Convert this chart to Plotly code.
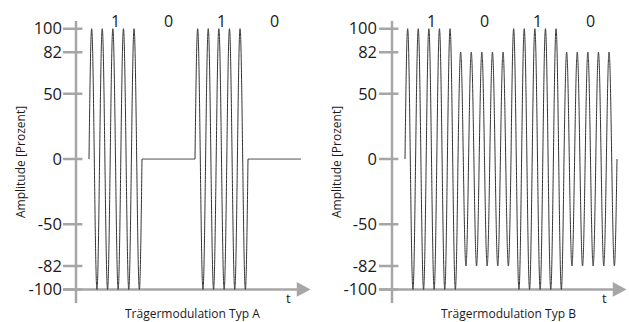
import numpy as np
import plotly.graph_objects as go

# ---- data ----
bits = [1, 0, 1, 0]
bit_labels = ["1", "0", "1", "0"]
levels_typ_a = [100, 0, 100, 0]      # amplitude (%) per bit, Typ A
levels_typ_b = [100, 82, 100, 82]    # amplitude (%) per bit, Typ B
cycles_per_bit = 5
y_ticks = [100, 82, 50, 0, -50, -82, -100]
titles = ["Trägermodulation Typ A", "Trägermodulation Typ B"]
y_title = "Amplitude [Prozent]"

# ---- layout constants (pixels) ----
W, H = 629, 322
PX_PER_BIT = 53.0
panels = [
    dict(left=63, right=316, t0=89, levels=levels_typ_a, title=titles[0], ylab_x=20),
    dict(left=378, right=629, t0=405, levels=levels_typ_b, title=titles[1], ylab_x=336),
]
TOP, BOTTOM = 17, 303
Y0_PX, PX_PER_UNIT = 157.0, 1.32
y_range = [(Y0_PX - BOTTOM) / PX_PER_UNIT, (Y0_PX - TOP) / PX_PER_UNIT]

AX_COLOR = "#a6a6a6"
LINE_COLOR = "#333333"
TXT = "#1a1a1a"
FONT = "Open Sans"

fig = go.Figure()
shapes, annotations = [], []

samples_per_bit = 1000
for i, p in enumerate(panels):
    xa = "x" if i == 0 else "x2"
    ya = "y" if i == 0 else "y2"
    t = np.linspace(0, len(bits), len(bits) * samples_per_bit + 1)
    idx = np.minimum(np.floor(t).astype(int), len(bits) - 1)
    amp = np.array(p["levels"])[idx]
    y = amp * np.sin(2 * np.pi * cycles_per_bit * t)
    fig.add_trace(go.Scatter(x=t, y=y, mode="lines", xaxis=xa, yaxis=ya,
                             line=dict(color=LINE_COLOR, width=1, simplify=False),
                             hoverinfo="skip", showlegend=False))

    ax_x = -13 / PX_PER_BIT
    tick_l, tick_r = -0.49, -0.125
    tip, base = 4.18, 3.92
    half = 7.5 / PX_PER_UNIT
    # y axis line
    shapes.append(dict(type="line", xref=xa, yref=ya, x0=ax_x, x1=ax_x,
                       y0=y_range[0], y1=y_range[1],
                       line=dict(color=AX_COLOR, width=2.5), layer="below"))
    # tick marks
    for v in y_ticks:
        shapes.append(dict(type="line", xref=xa, yref=ya, x0=tick_l, x1=tick_r,
                           y0=v, y1=v, line=dict(color=AX_COLOR, width=2.5), layer="below"))
    # x axis line + arrow
    shapes.append(dict(type="line", xref=xa, yref=ya, x0=tick_l, x1=base + 0.02,
                       y0=-100, y1=-100, line=dict(color=AX_COLOR, width=2.5), layer="below"))
    shapes.append(dict(type="path", xref=xa, yref=ya,
                       path=f"M {base},{-100 + half} L {tip},-100 L {base},{-100 - half} Z",
                       fillcolor=AX_COLOR, line=dict(color=AX_COLOR, width=0), layer="below"))

    # bit labels
    for b, lab in enumerate(bit_labels):
        annotations.append(dict(xref=xa, yref=ya, x=b + 0.5, y=106, text=lab,
                                showarrow=False, font=dict(family=FONT, size=16, color=TXT)))
    # t label
    annotations.append(dict(xref=xa, yref=ya, x=3.76, y=-106.5, text="t", showarrow=False,
                            font=dict(family=FONT, size=13, color=TXT)))
    # title
    annotations.append(dict(xref=xa, yref="paper", x=1.96, y=(H - 313) / H, text=p["title"],
                            showarrow=False, xanchor="center", yanchor="middle",
                            font=dict(family=FONT, size=12, color=TXT)))
    # y title
    annotations.append(dict(xref="paper", yref="paper", x=p["ylab_x"] / W, y=(H - 160) / H,
                            text=y_title, textangle=-90, showarrow=False,
                            xanchor="center", yanchor="middle",
                            font=dict(family=FONT, size=12, color=TXT)))

def xaxis_for(p):
    return dict(domain=[p["left"] / W, p["right"] / W],
                range=[(p["left"] - p["t0"]) / PX_PER_BIT, (p["right"] - p["t0"]) / PX_PER_BIT],
                showgrid=False, zeroline=False, showline=False, showticklabels=False,
                ticks="", fixedrange=True)

def yaxis_for(anchor):
    return dict(domain=[(H - BOTTOM) / H, (H - TOP) / H], range=y_range, anchor=anchor,
                tickmode="array", tickvals=y_ticks, ticktext=[str(v) for v in y_ticks],
                showgrid=False, zeroline=False, showline=False, ticks="",
                tickfont=dict(family=FONT, size=16.5, color=TXT), fixedrange=True)

fig.update_layout(
    width=W, height=H, margin=dict(l=0, r=0, t=0, b=0),
    paper_bgcolor="white", plot_bgcolor="white",
    xaxis=xaxis_for(panels[0]), xaxis2=xaxis_for(panels[1]),
    yaxis=yaxis_for("x"), yaxis2=yaxis_for("x2"),
    shapes=shapes, annotations=annotations, showlegend=False,
)

fig.write_html("out.html", config={"displayModeBar": False},
               post_script="document.body.style.margin='0';document.body.style.padding='0';")
